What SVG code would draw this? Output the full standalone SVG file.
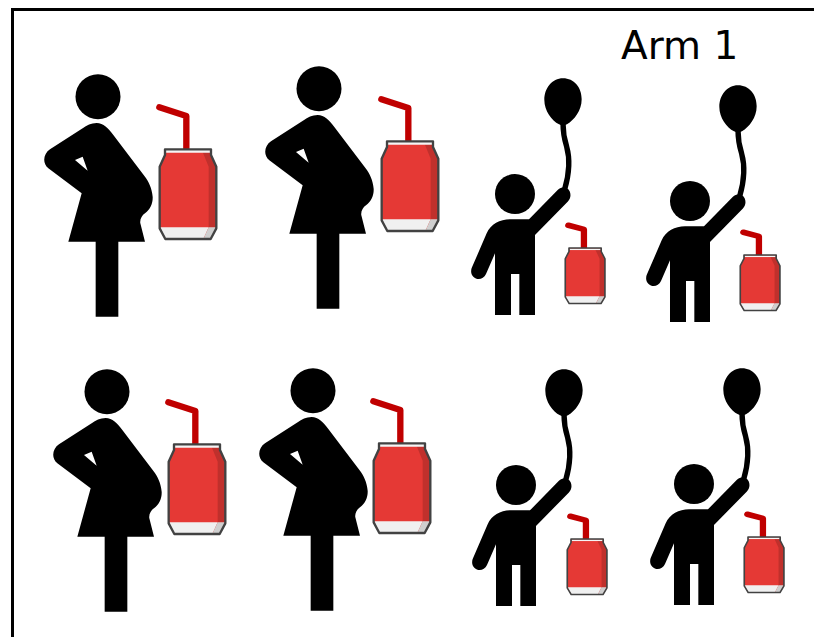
<svg xmlns="http://www.w3.org/2000/svg" width="814" height="637" viewBox="0 0 814 637">
<style>
.ink{fill:#000}
.str{fill:none;stroke:#c00000;stroke-linecap:round;stroke-linejoin:round}
.frame{fill:#fff;stroke:#000;stroke-width:3}
.label{font-family:"DejaVu Sans","Liberation Sans",sans-serif;font-size:39px;fill:#000}
</style>
<defs>
<g id="woman" transform="translate(30 60) scale(.33333)">
<circle class="ink" cx="204" cy="110" r="67.500"/>
<path class="ink" fill-rule="evenodd" d="M200 189C183 189 170 196 158 205L60 268C40 281 36 310 55 325L155 400L115 545H197V770H265V545H345L331 490C329 478 336 466 345 460C362 448 369 428 368 410C366 385 355 362 345 350L250 225C235 204 220 189 200 189ZM135 300L158 290L173 332Z"/>
</g>
<g id="child" transform="translate(460 70) scale(.33333)">
<circle class="ink" cx="165" cy="372" r="60"/>
<path class="ink" d="M309 25C276 25 253 55 253 90C253 122 275 152 297 163C304 167 314 167 321 163C343 150 365 122 365 88C365 52 342 25 309 25Z"/>
<path d="M309 160C309 185 312 205 320 230C330 265 328 310 314 358" fill="none" stroke="#000" stroke-width="16"/>
<path class="ink" d="M150 448H207L293 360C306 348 322 350 329 364C334 376 331 387 323 395L225 495V735H178V612H153V735H105V550L78 612C70 628 52 632 40 620C32 612 32 600 36 592L80 490C92 462 120 448 150 448Z"/>
</g>
<g id="can-body">
<path fill="#e53935" d="M45 148H183V165L199 200V385L182 417H46L29 385V200L45 165Z"/>
<path fill="#c0302c" d="M158 156H183V165L199 200V382H176V200Z"/>
<path fill="#f0f0f0" d="M30 382H176L160 417H46Z"/>
<path fill="#cfcfcf" d="M176 382H198L182 417H160Z"/>
<path fill="#f5f5f5" d="M47 150H181V158H47Z"/>
<path fill="none" stroke="#424242" stroke-width="7" stroke-linejoin="round" d="M45 148H183V165L199 200V385L182 417H46L29 385V200L45 165Z"/>
</g>
<g id="can" transform="translate(150 100) scale(.33333)">
<path class="str" stroke-width="19" d="M109 148V48L28 22"/>
<use href="#can-body"/>
</g>
<g id="can-small" transform="translate(558.500 217.400) scale(.23333 .20667)">
<path class="str" stroke-width="27" d="M109 148V58L42 38"/>
<use href="#can-body"/>
</g>
</defs>
<rect class="frame" x="12.500" y="9.500" width="820" height="640"/>
<text class="label" x="621" y="59">Arm 1</text>
<g id="woman-1"><use href="#woman"/><use href="#can"/></g>
<g id="woman-2" transform="translate(221 -8)"><use href="#woman"/><use href="#can" x="1"/></g>
<g id="woman-3" transform="translate(9 295)"><use href="#woman"/><use href="#can"/></g>
<g id="woman-4" transform="translate(215 294)"><use href="#woman"/><use href="#can" x="-1"/></g>
<g id="child-1"><use href="#child"/><use href="#can-small"/></g>
<g id="child-2" transform="translate(175 7)"><use href="#child"/><use href="#can-small"/></g>
<g id="child-3" transform="translate(1 291)"><use href="#child"/><use href="#can-small" x="1"/></g>
<g id="child-4" transform="translate(179 290)"><use href="#child"/><use href="#can-small" y="-1"/></g>
</svg>
